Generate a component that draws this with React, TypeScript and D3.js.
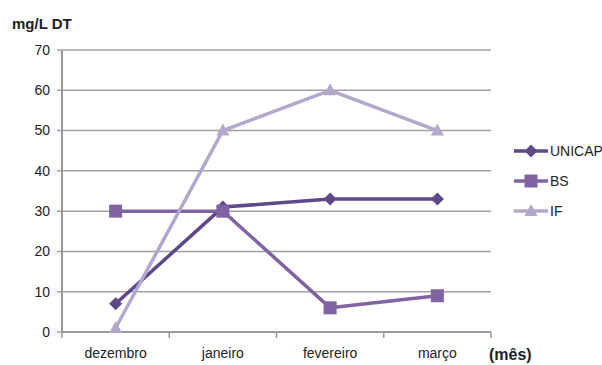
import React from "react";
import * as d3 from "d3";

const months = ["dezembro", "janeiro", "fevereiro", "março"];
const unicap = [7, 31, 33, 33];
const bs = [30, 30, 6, 9];
const ifValues = [1, 50, 60, 50];
const yTicks = [0, 10, 20, 30, 40, 50, 60, 70];

const seriesList = [
  { name: "UNICAP", values: unicap, color: "#5e4889", marker: "diamond" },
  { name: "BS", values: bs, color: "#8064a2", marker: "square" },
  { name: "IF", values: ifValues, color: "#b4a7cc", marker: "triangle" },
];

const W = 602;
const H = 365;
const plot = { left: 62, right: 491, top: 50, bottom: 332 };
const font = "'Liberation Sans', Arial, sans-serif";

function Marker({ kind, x, y, color }: { kind: string; x: number; y: number; color: string }) {
  if (kind === "square") {
    return <rect x={x - 6.5} y={y - 6.5} width={13} height={13} fill={color} />;
  }
  if (kind === "diamond") {
    return <path d={`M${x},${y - 6.5}L${x + 6.5},${y}L${x},${y + 6.5}L${x - 6.5},${y}Z`} fill={color} />;
  }
  return <path d={`M${x},${y - 7}L${x + 6.5},${y + 5}L${x - 6.5},${y + 5}Z`} fill={color} />;
}

export default function App() {
  const x = d3.scaleBand<string>().domain(months).range([plot.left, plot.right]);
  const y = d3.scaleLinear().domain([0, 70]).range([plot.bottom, plot.top]);
  const cx = (i: number) => (x(months[i]) as number) + x.bandwidth() / 2;
  const line = d3
    .line<number>()
    .x((_, i) => cx(i))
    .y((d) => y(d));

  const ticksX = [...months.map((m) => x(m) as number), plot.right];

  return (
    <svg width={W} height={H} style={{ position: "absolute", left: 0, top: 0, background: "#fff" }}>
      <rect width={W} height={H} fill="#fff" />
      {yTicks.map((t) => (
        <g key={t}>
          <line x1={plot.left - 5} x2={plot.right} y1={y(t)} y2={y(t)} stroke="#a0a0a0" strokeWidth={1.5} />
          <text x={50} y={y(t)} dy="0.35em" textAnchor="end" fontFamily={font} fontSize={14} fill="#222">
            {t}
          </text>
        </g>
      ))}
      <line x1={plot.left} x2={plot.left} y1={plot.top} y2={plot.bottom} stroke="#9a9a9a" strokeWidth={2} />
      <line x1={plot.left} x2={plot.right} y1={plot.bottom} y2={plot.bottom} stroke="#9a9a9a" strokeWidth={2} />
      {ticksX.map((tx, i) => (
        <line key={i} x1={tx} x2={tx} y1={plot.bottom} y2={plot.bottom + 6} stroke="#9a9a9a" strokeWidth={1.5} />
      ))}
      {months.map((m, i) => (
        <text key={m} x={cx(i)} y={358} textAnchor="middle" fontFamily={font} fontSize={14} fill="#222">
          {m}
        </text>
      ))}
      {seriesList.map((s) => (
        <g key={s.name}>
          <path d={line(s.values) || ""} fill="none" stroke={s.color} strokeWidth={3.5} strokeLinejoin="round" />
          {s.values.map((v, i) => (
            <Marker key={i} kind={s.marker} x={cx(i)} y={y(v)} color={s.color} />
          ))}
        </g>
      ))}
      {seriesList.map((s, i) => {
        const ly = 151 + i * 30;
        return (
          <g key={s.name}>
            <line x1={514} x2={548} y1={ly} y2={ly} stroke={s.color} strokeWidth={3.5} />
            <Marker kind={s.marker} x={531} y={ly} color={s.color} />
            <text x={550} y={ly} dy="0.35em" fontFamily={font} fontSize={14} fill="#222">
              {s.name}
            </text>
          </g>
        );
      })}
      <text x={12} y={29} fontFamily={font} fontSize={15} fontWeight="bold" fill="#222">
        mg/L DT
      </text>
      <text x={489} y={360} fontFamily={font} fontSize={16} fontWeight="bold" fill="#222">
        (mês)
      </text>
    </svg>
  );
}
